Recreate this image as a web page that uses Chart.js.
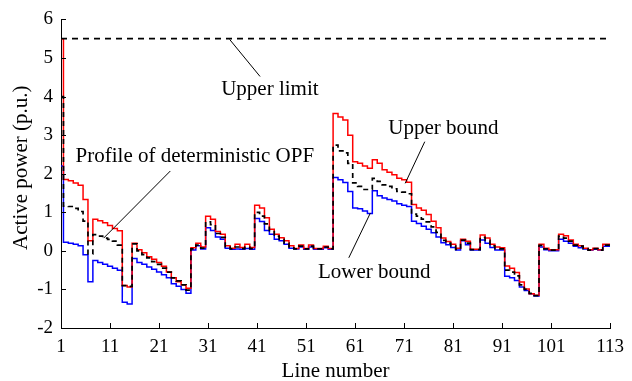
<!DOCTYPE html>
<html>
<head>
<meta charset="utf-8">
<script src="https://cdn.jsdelivr.net/npm/chart.js@4.4.1/dist/chart.umd.min.js"></script>
<style>
  html, body { margin: 0; padding: 0; background: #fff; }
  #wrap { width: 632px; height: 381px; }
</style>
</head>
<body>
<div id="wrap"><canvas id="chart" width="632" height="381"></canvas></div>
<script>
// Dati (p.u.)
const lineNumbers = [];
for (let i = 1; i <= 113; i++) lineNumbers.push(i);

const upperBound = [
  5.5, 1.85, 1.82, 1.76, 1.70, 1.33, 0.26, 0.82, 0.78, 0.73,
  0.66, 0.58, 0.52, -0.90, -0.94, 0.20, 0.03, -0.05, -0.15, -0.22,
  -0.30, -0.40, -0.55, -0.70, -0.80, -0.88, -0.97, 0.08, 0.20, 0.10,
  0.90, 0.82, 0.50, 0.43, 0.13, 0.07, 0.17, 0.09, 0.17, 0.09,
  1.18, 1.11, 0.86, 0.56, 0.43, 0.34, 0.26, 0.13, 0.06, 0.15,
  0.06, 0.15, 0.06, 0.06, 0.12, 0.06, 3.56, 3.47, 3.39, 3.00,
  2.31, 2.27, 2.20, 2.14, 2.36, 2.27, 2.10, 2.04, 1.97, 1.88,
  1.84, 1.78, 1.20, 1.11, 1.05, 0.94, 0.77, 0.60, 0.33, 0.24,
  0.17, 0.07, 0.30, 0.25, 0.04, 0.04, 0.41, 0.33, 0.17, 0.10,
  0.08, -0.39, -0.45, -0.56, -0.81, -0.99, -1.11, -1.15, 0.17, 0.07,
  0.03, 0.03, 0.43, 0.39, 0.28, 0.17, 0.13, 0.07, 0.03, 0.07,
  0.03, 0.17, 0.17
];

const deterministic = [
  4.0, 1.16, 1.15, 1.10, 1.02, 0.77, -0.08, 0.42, 0.38, 0.33,
  0.30, 0.25, 0.15, -0.90, -0.92, 0.18, 0.0, -0.10, -0.18, -0.28,
  -0.35, -0.45, -0.55, -0.70, -0.78, -0.88, -1.02, 0.05, 0.15, 0.07,
  0.75, 0.68, 0.45, 0.35, 0.10, 0.05, 0.10, 0.06, 0.10, 0.06,
  1.00, 0.90, 0.70, 0.50, 0.38, 0.30, 0.20, 0.10, 0.05, 0.12,
  0.05, 0.12, 0.05, 0.05, 0.10, 0.05, 2.74, 2.59, 2.54, 2.27,
  1.76, 1.67, 1.59, 1.59, 1.88, 1.80, 1.71, 1.67, 1.61, 1.54,
  1.52, 1.48, 0.95, 0.90, 0.82, 0.75, 0.62, 0.48, 0.27, 0.20,
  0.13, 0.04, 0.28, 0.20, 0.03, 0.03, 0.35, 0.27, 0.13, 0.06,
  0.05, -0.50, -0.55, -0.65, -0.88, -1.00, -1.10, -1.16, 0.14, 0.05,
  0.02, 0.02, 0.38, 0.33, 0.25, 0.15, 0.12, 0.06, 0.02, 0.06,
  0.02, 0.15, 0.15
];

const lowerBound = [
  2.2, 0.22, 0.20, 0.17, 0.13, -0.10, -0.80, -0.25, -0.30, -0.35,
  -0.40, -0.45, -0.50, -1.33, -1.38, -0.20, -0.30, -0.35, -0.42, -0.48,
  -0.55, -0.62, -0.70, -0.85, -0.92, -1.00, -1.10, 0.02, 0.13, 0.05,
  0.60, 0.53, 0.36, 0.30, 0.07, 0.04, 0.05, 0.04, 0.06, 0.04,
  0.84, 0.76, 0.53, 0.43, 0.30, 0.26, 0.17, 0.07, 0.05, 0.10,
  0.04, 0.10, 0.04, 0.04, 0.08, 0.04, 1.90, 1.84, 1.77, 1.54,
  1.11, 1.09, 1.03, 0.97, 1.56, 1.43, 1.37, 1.33, 1.29, 1.22,
  1.18, 1.15, 0.77, 0.71, 0.64, 0.56, 0.47, 0.36, 0.21, 0.16,
  0.09, 0.02, 0.26, 0.16, 0.02, 0.02, 0.28, 0.20, 0.09, 0.02,
  0.02, -0.66, -0.70, -0.77, -0.94, -1.03, -1.11, -1.17, 0.10, 0.03,
  0.0, 0.0, 0.30, 0.25, 0.20, 0.12, 0.08, 0.05, 0.02, 0.04,
  0.02, 0.12, 0.12
];

const upperLimit = 5.5;
const xTickValues = [1, 11, 21, 31, 41, 51, 61, 71, 81, 91, 101, 113];
const yTickValues = [-2, -1, 0, 1, 2, 3, 4, 5, 6];

// Etichette con linea di richiamo (coordinate in unita' dei dati)
const notes = [
  { text: 'Upper limit', tx: 43.6, ty: 4.19, from: [35.4, 5.48], to: [41.6, 4.52] },
  { text: 'Profile of deterministic OPF', tx: 28.3, ty: 2.44, from: [23.3, 2.07], to: [9.7, 0.33] },
  { text: 'Upper bound', tx: 79.0, ty: 3.16, from: [75.2, 2.83], to: [71.2, 1.75] },
  { text: 'Lower bound', tx: 64.9, ty: -0.57, from: [64.1, 0.98], to: [59.7, -0.18] }
];

const serif = '"Liberation Serif", "Times New Roman", serif';

function toPoints(values) {
  return values.map((v, i) => ({ x: lineNumbers[i], y: v }));
}

// Tacche verso l'interno, titolo asse y e annotazioni
const extras = {
  id: 'extras',
  afterDraw(chart) {
    const { ctx, chartArea, scales: { x, y } } = chart;
    ctx.save();
    ctx.strokeStyle = '#000';
    ctx.lineWidth = 1;
    ctx.beginPath();
    xTickValues.forEach(v => {
      const px = Math.round(x.getPixelForValue(v)) + 0.5;
      ctx.moveTo(px, chartArea.bottom);
      ctx.lineTo(px, chartArea.bottom - 5);
    });
    yTickValues.forEach(v => {
      const py = Math.round(y.getPixelForValue(v)) + 0.5;
      ctx.moveTo(chartArea.left, py);
      ctx.lineTo(chartArea.left + 5, py);
    });
    ctx.stroke();

    ctx.fillStyle = '#000';
    ctx.font = '21px ' + serif;
    ctx.textAlign = 'center';
    ctx.textBaseline = 'middle';
    notes.forEach(n => {
      ctx.beginPath();
      ctx.moveTo(x.getPixelForValue(n.from[0]), y.getPixelForValue(n.from[1]));
      ctx.lineTo(x.getPixelForValue(n.to[0]), y.getPixelForValue(n.to[1]));
      ctx.stroke();
      ctx.fillText(n.text, x.getPixelForValue(n.tx), y.getPixelForValue(n.ty));
    });

    // titolo asse y
    ctx.translate(21, (chartArea.top + chartArea.bottom) / 2 - 6);
    ctx.rotate(-Math.PI / 2);
    ctx.fillText('Active power (p.u.)', 0, 0);
    ctx.restore();
  }
};

new Chart(document.getElementById('chart'), {
  type: 'line',
  data: {
    datasets: [
      {
        label: 'Profile of deterministic OPF',
        data: toPoints(deterministic),
        borderColor: '#000',
        borderWidth: 1.7,
        borderDash: [5, 4],
        stepped: 'middle',
        pointRadius: 0,
        order: 0
      },
      {
        label: 'Upper limit',
        data: [{ x: lineNumbers[0], y: upperLimit }, { x: lineNumbers[lineNumbers.length - 1], y: upperLimit }],
        borderColor: '#000',
        borderWidth: 1.7,
        borderDash: [6, 5],
        pointRadius: 0,
        order: 1
      },
      {
        label: 'Upper bound',
        data: toPoints(upperBound),
        borderColor: '#ff0000',
        borderWidth: 1.5,
        stepped: 'middle',
        pointRadius: 0,
        order: 2
      },
      {
        label: 'Lower bound',
        data: toPoints(lowerBound),
        borderColor: '#0000ff',
        borderWidth: 1.5,
        stepped: 'middle',
        pointRadius: 0,
        order: 3
      }
    ]
  },
  options: {
    responsive: false,
    animation: false,
    devicePixelRatio: 1,
    layout: { padding: { top: 17, right: 14, left: 0, bottom: 0 } },
    plugins: { legend: { display: false }, tooltip: { enabled: false } },
    scales: {
      x: {
        type: 'linear',
        min: 1,
        max: 113,
        afterBuildTicks: scale => { scale.ticks = xTickValues.map(v => ({ value: v })); },
        afterFit: scale => { scale.height = 53; },
        grid: { display: false, drawTicks: false },
        border: { display: true, color: '#000', width: 1 },
        ticks: { color: '#000', padding: 8, maxRotation: 0, autoSkip: false, font: { family: serif, size: 19 } },
        title: { display: true, text: 'Line number', color: '#000', padding: { top: 0, bottom: -3 }, font: { family: serif, size: 21 } }
      },
      y: {
        min: -2,
        max: 6,
        afterBuildTicks: scale => { scale.ticks = yTickValues.map(v => ({ value: v })); },
        afterFit: scale => { scale.width = 61; },
        grid: { display: false, drawTicks: false },
        border: { display: true, color: '#000', width: 1 },
        ticks: { color: '#000', padding: 8, font: { family: serif, size: 19 } },
        title: { display: false }
      }
    }
  },
  plugins: [extras]
});
</script>
</body>
</html>
